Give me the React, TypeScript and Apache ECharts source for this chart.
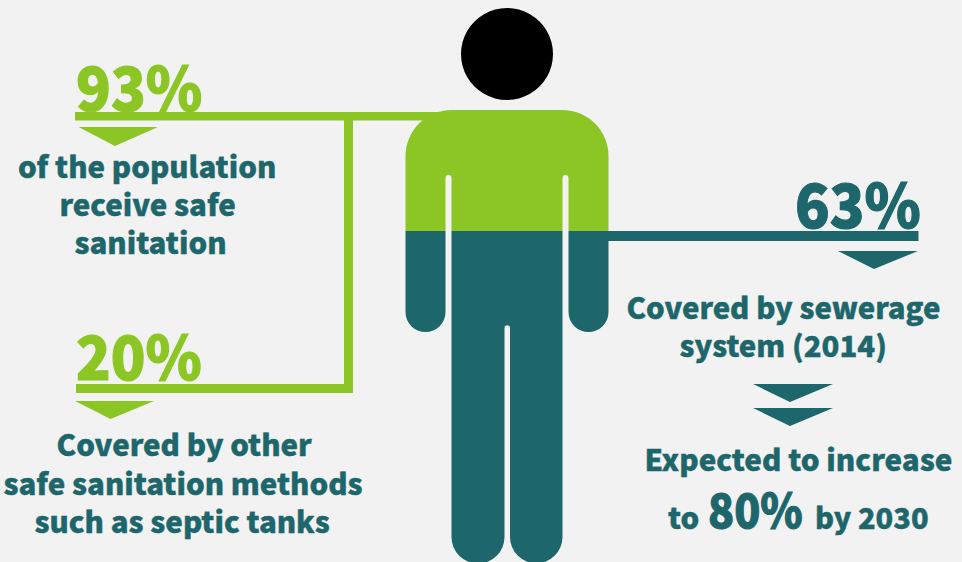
import React, { useEffect, useRef } from "react";
import * as echarts from "echarts";

const GREEN = "#8cc625";
const TEAL = "#1d666b";
const FONT = "'Noto Sans CJK SC'";

// Figures stated on the graphic
const safeSanitationShare = [93];
const otherMethodsShare = [20];
const sewerageShare = [63];
const sewerageTarget = [80];

// Captions, one entry per line
const safeCaption = ["of the population", "receive safe", "sanitation"];
const otherCaption = ["Covered by other", "safe sanitation methods", "such as septic tanks"];
const sewerageCaption = ["Covered by sewerage", "system (2014)"];
const targetCaption = ["Expected to increase", "to", "by 2030"];

// Figure outline, upper and lower colour bands
const TORSO_PATH =
  "M405.5 231V156A46 46 0 0 1 451.5 110H562.5A46 46 0 0 1 608.5 156V231H568.5V178A3 3 0 0 0 562.5 178V231H451.5V178A3 3 0 0 0 445.5 178V231Z";
const LEGS_PATH =
  "M405.5 231V312A20 20 0 0 0 445.5 312V231H451.5V537A26.5 26.5 0 0 0 504.5 537V328A2.75 2.75 0 0 1 510 328V537A26.25 26.25 0 0 0 562.5 537V231H568.5V312A20 20 0 0 0 608.5 312V231Z";

echarts.graphic.registerShape("torsoBand", echarts.graphic.extendPath(TORSO_PATH, {}));
echarts.graphic.registerShape("legsBand", echarts.graphic.extendPath(LEGS_PATH, {}));

const bar = (x: number, y: number, width: number, height: number, fill: string) => ({
  type: "rect",
  shape: { x, y, width, height },
  style: { fill },
});

const arrow = (x1: number, x2: number, tipX: number, y: number, tipY: number, fill: string) => ({
  type: "polygon",
  shape: { points: [[x1, y], [x2, y], [tipX, tipY]] },
  style: { fill },
});

// Text anchored at its left edge; baseline is the y of the letters' foot, sx stretches
// horizontally, and a thin outline of the same colour thickens the strokes.
const label = (
  text: string,
  x: number,
  baseline: number,
  size: number,
  fill: string,
  sx = 1,
  outline = 0.4,
) => ({
  type: "text",
  x,
  y: baseline - size * (size > 40 ? 0.93 : 0.9),
  scaleX: sx,
  style: {
    text,
    x: 0,
    y: 0,
    fill,
    stroke: fill,
    lineWidth: outline,
    font: `900 ${size}px ${FONT}`,
    textAlign: "left",
    textVerticalAlign: "top",
  },
});

export default function App() {
  const ref = useRef<HTMLDivElement>(null);

  useEffect(() => {
    document.body.style.margin = "0";
    const chart = echarts.init(ref.current!, null, { renderer: "svg" });
    chart.setOption({
      animation: false,
      backgroundColor: "#f2f2f2",
      graphic: {
        elements: [
          // connectors behind the figure
          bar(75, 112, 370, 8.5, GREEN),
          bar(344, 120, 9, 273, GREEN),
          bar(76, 384, 277, 9, GREEN),
          bar(600, 231, 318.5, 10, TEAL),

          // figure
          { type: "circle", shape: { cx: 507, cy: 54, r: 46 }, style: { fill: "#000000" } },
          { type: "torsoBand", style: { fill: GREEN } },
          { type: "legsBand", style: { fill: TEAL } },

          // left column
          label(`${safeSanitationShare[0]}%`, 76, 110, 61, GREEN, 0.94, 1.2),
          arrow(78.5, 158, 115, 127, 146, GREEN),
          label(safeCaption[0], 18, 177, 29, TEAL, 1.016),
          label(safeCaption[1], 59.5, 215, 29, TEAL, 1.016),
          label(safeCaption[2], 74.5, 253, 29, TEAL, 1.016),

          label(`${otherMethodsShare[0]}%`, 76, 380, 61, GREEN, 0.935, 1.2),
          arrow(75, 154, 110.5, 401, 419, GREEN),
          label(otherCaption[0], 56.5, 455, 29, TEAL, 1.016),
          label(otherCaption[1], 3.5, 494, 29, TEAL, 1.016),
          label(otherCaption[2], 34.5, 532, 29, TEAL, 1.016),

          // right column
          label(`${sewerageShare[0]}%`, 795, 228, 61, TEAL, 0.935, 1.2),
          arrow(838, 918, 874, 251, 269, TEAL),
          label(sewerageCaption[0], 626.5, 318, 29, TEAL, 1.012),
          label(sewerageCaption[1], 679.5, 356, 29, TEAL, 1.012),

          arrow(753, 833, 790, 384, 402, TEAL),
          arrow(753, 833, 790, 408, 426, TEAL),
          label(targetCaption[0], 644.5, 470, 29, TEAL, 1.02),
          label(targetCaption[1], 668, 528, 29, TEAL, 1.016),
          label(`${sewerageTarget[0]}%`, 708, 528, 47, TEAL, 0.915, 1),
          label(targetCaption[2], 815, 528, 29, TEAL, 1.0),
        ],
      },
    });
    return () => chart.dispose();
  }, []);

  return <div ref={ref} style={{ position: "absolute", left: 0, top: 0, width: 962, height: 562 }} />;
}
